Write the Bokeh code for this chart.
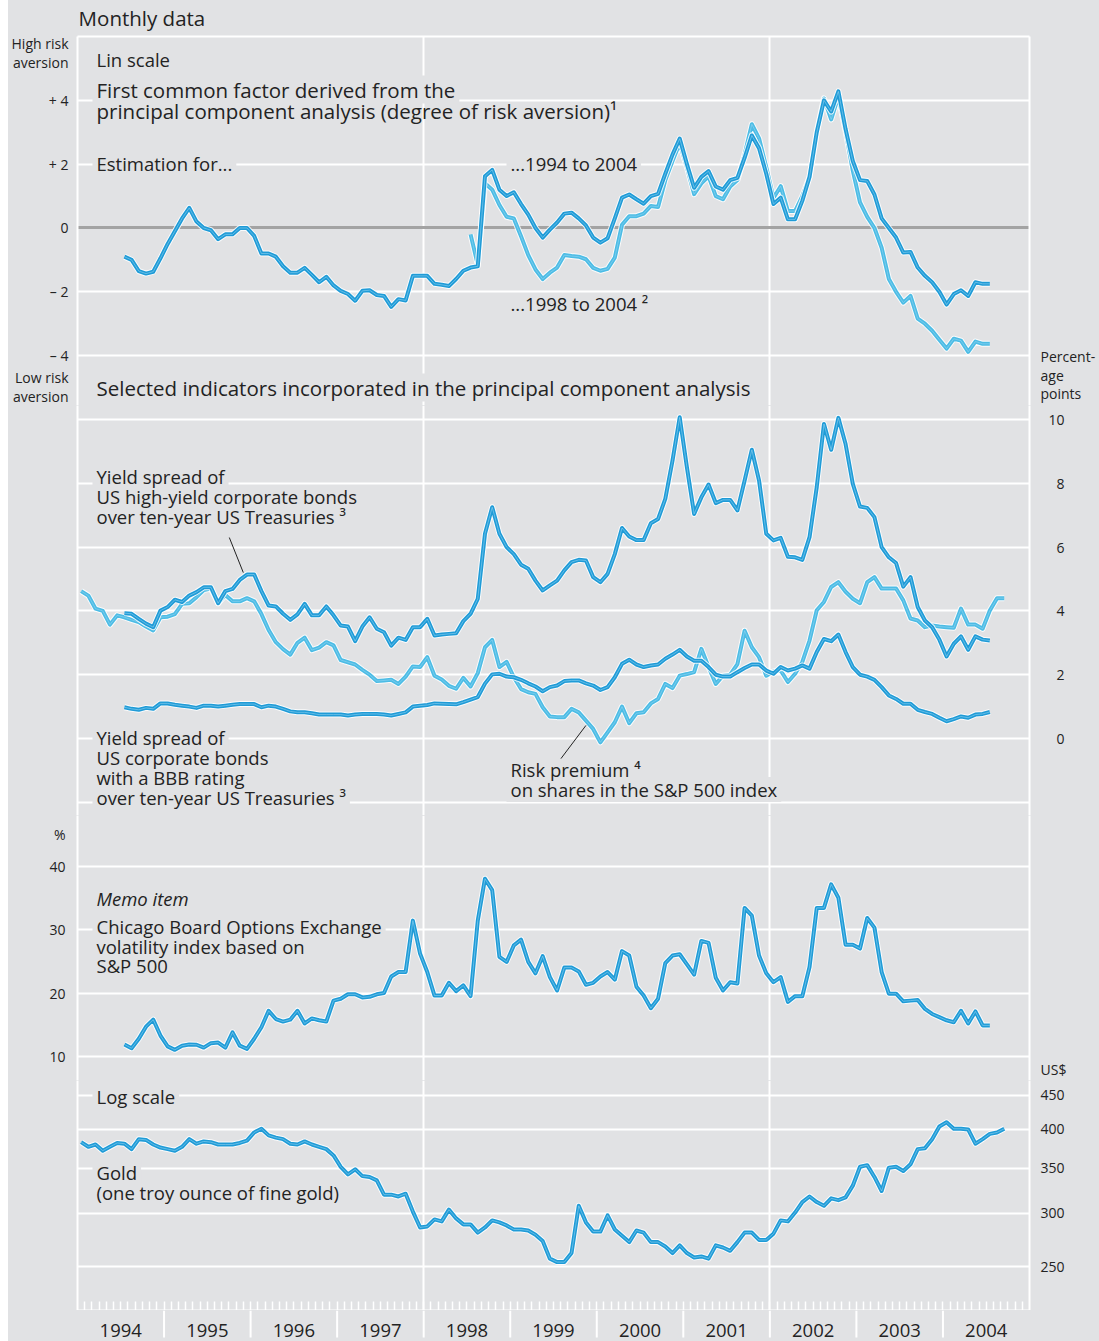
from bokeh.plotting import figure
from bokeh.layouts import column, row
from bokeh.models import (Range1d, LinearAxis, LogAxis, FixedTicker, Grid, Label,
                          ColumnDataSource, Spacer)
from bokeh.core.properties import value
from bokeh.embed import file_html
from bokeh.resources import INLINE

# ---------------------------------------------------------------- data
FIRST_YEAR = 1994
LAST_YEAR = 2005
year_labels = ["1994", "1995", "1996", "1997", "1998", "1999",
               "2000", "2001", "2002", "2003", "2004"]

# months counted from Jan 1994 (0 = Jan 1994)
factor_9404_start = 6
factor_9404 = [-0.9, -1.0, -1.35, -1.43, -1.37, -0.95, -0.5, -0.1, 0.3, 0.63,
               0.2, 0.0, -0.07, -0.35, -0.2, -0.2, 0.0, 0.0, -0.25, -0.8,
               -0.8, -0.9, -1.2, -1.4, -1.4, -1.25, -1.47, -1.7, -1.53, -1.8,
               -1.97, -2.07, -2.28, -1.97, -1.95, -2.1, -2.13, -2.47, -2.23, -2.27,
               -1.5, -1.5, -1.5, -1.75, -1.78, -1.82, -1.6, -1.34, -1.24, -1.2,
               1.62, 1.82, 1.2, 1.0, 1.12, 0.75, 0.42, 0.0, -0.3, -0.05,
               0.17, 0.45, 0.48, 0.3, 0.08, -0.3, -0.46, -0.32, 0.3, 0.95,
               1.05, 0.9, 0.76, 1.0, 1.07, 1.7, 2.3, 2.8, 2.0, 1.26,
               1.6, 1.78, 1.3, 1.2, 1.5, 1.57, 2.2, 2.9, 2.5, 1.7,
               0.75, 0.95, 0.27, 0.27, 0.85, 1.6, 3.0, 4.0, 3.65, 4.28,
               3.1, 2.1, 1.5, 1.47, 1.05, 0.3, 0.0, -0.3, -0.77, -0.75,
               -1.24, -1.5, -1.7, -2.0, -2.4, -2.07, -1.95, -2.13, -1.7, -1.75,
               -1.75]

factor_9804_start = 54
factor_9804 = [-0.2, -1.15,
               1.4, 1.2, 0.72, 0.35, 0.3, -0.26, -0.85, -1.3, -1.6, -1.4,
               -1.24, -0.85, -0.88, -0.9, -0.98, -1.25, -1.34, -1.28, -0.93, 0.1,
               0.37, 0.37, 0.45, 0.69, 0.66, 1.5, 2.1, 2.66, 1.9, 1.06,
               1.4, 1.62, 1.0, 0.9, 1.3, 1.5, 2.3, 3.25, 2.81, 1.9,
               0.94, 1.31, 0.53, 0.53, 1.0, 1.6, 3.0, 4.06, 3.4, 4.12,
               3.03, 1.8, 0.8, 0.35, 0.0, -0.62, -1.6, -2.0, -2.34, -2.13,
               -2.84, -3.0, -3.22, -3.5, -3.78, -3.47, -3.53, -3.88, -3.56, -3.63,
               -3.63]

high_yield_start = 6
high_yield = [3.93, 3.91, 3.75, 3.6, 3.49, 4.01, 4.12, 4.35, 4.28, 4.48,
              4.59, 4.74, 4.74, 4.24, 4.62, 4.69, 4.97, 5.14, 5.14, 4.62,
              4.17, 4.14, 3.91, 3.72, 3.89, 4.22, 3.86, 3.86, 4.14, 3.86,
              3.54, 3.51, 3.05, 3.51, 3.8, 3.44, 3.33, 2.91, 3.16, 3.09,
              3.49, 3.49, 3.75, 3.23, 3.26, 3.28, 3.3, 3.68, 3.91, 4.38,
              6.42, 7.25, 6.42, 6.0, 5.78, 5.45, 5.32, 4.95, 4.64, 4.8,
              4.95, 5.27, 5.53, 5.6, 5.58, 5.06, 4.9, 5.16, 5.78, 6.6,
              6.33, 6.22, 6.22, 6.75, 6.88, 7.51, 8.71, 10.07, 8.5, 7.04,
              7.56, 7.96, 7.38, 7.48, 7.48, 7.15, 8.09, 9.05, 8.09, 6.42,
              6.21, 6.29, 5.7, 5.68, 5.6, 6.31, 7.88, 9.86, 9.05, 10.05,
              9.23, 7.98, 7.27, 7.23, 6.94, 6.0, 5.68, 5.5, 4.76, 5.06,
              4.12, 3.7, 3.49, 3.1, 2.57, 2.97, 3.2, 2.78, 3.2, 3.1,
              3.07]

bbb_start = 6
bbb = [0.98, 0.93, 0.9, 0.96, 0.93, 1.1, 1.1, 1.06, 1.03, 1.0,
       0.96, 1.03, 1.03, 1.0, 1.03, 1.06, 1.08, 1.08, 1.08, 0.98,
       1.03, 1.0, 0.93, 0.85, 0.82, 0.82, 0.79, 0.75, 0.75, 0.75,
       0.75, 0.72, 0.75, 0.77, 0.77, 0.77, 0.75, 0.72, 0.77, 0.82,
       1.0, 1.03, 1.05, 1.1, 1.09, 1.08, 1.07, 1.14, 1.22, 1.3,
       1.72, 2.01, 2.03, 1.94, 1.92, 1.84, 1.73, 1.63, 1.48, 1.61,
       1.66, 1.8, 1.82, 1.82, 1.73, 1.66, 1.52, 1.61, 1.92, 2.34,
       2.47, 2.32, 2.24, 2.29, 2.32, 2.5, 2.63, 2.78, 2.57, 2.44,
       2.44, 2.24, 2.0, 1.94, 1.94, 2.08, 2.21, 2.32, 2.32, 2.13,
       2.03, 2.24, 2.13, 2.19, 2.29, 2.19, 2.71, 3.12, 3.05, 3.26,
       2.71, 2.24, 2.0, 1.94, 1.84, 1.61, 1.35, 1.24, 1.09, 1.09,
       0.9, 0.83, 0.77, 0.65, 0.54, 0.61, 0.69, 0.65, 0.75, 0.77,
       0.83]

risk_premium_start = 0
risk_premium = [4.62, 4.48, 4.07, 4.0, 3.57, 3.86, 3.8, 3.72, 3.65, 3.51,
                3.39, 3.8, 3.82, 3.9, 4.22, 4.24, 4.43, 4.65, 4.7, 4.24,
                4.5, 4.3, 4.3, 4.4, 4.3, 3.9, 3.4, 3.02, 2.8, 2.63,
                3.0, 3.16, 2.77, 2.85, 3.02, 2.92, 2.46, 2.39, 2.32, 2.15,
                2.0, 1.8, 1.82, 1.84, 1.71, 1.94, 2.26, 2.24, 2.55, 1.97,
                1.85, 1.65, 1.56, 1.9, 1.63, 2.05, 2.86, 3.09, 2.24, 2.4,
                1.92, 1.55, 1.45, 1.4, 0.98, 0.69, 0.67, 0.67, 0.93, 0.82,
                0.56, 0.3, -0.12, 0.19, 0.51, 1.0, 0.48, 0.79, 0.82, 1.1,
                1.24, 1.71, 1.58, 1.97, 2.02, 2.08, 2.81, 2.24, 1.71, 1.97,
                2.0, 2.33, 3.38, 2.86, 2.55, 1.97, 2.1, 2.13, 1.77, 2.03,
                2.4, 3.07, 4.02, 4.28, 4.75, 4.9, 4.6, 4.38, 4.24, 4.9,
                5.06, 4.7, 4.7, 4.7, 4.33, 3.76, 3.7, 3.49, 3.54, 3.51,
                3.49, 3.47, 4.07, 3.57, 3.57, 3.44, 4.01, 4.4, 4.4]

vix_start = 6
vix = [11.9, 11.3, 12.8, 14.7, 15.8, 13.3, 11.6, 11.05, 11.7, 11.9,
       11.85, 11.4, 12.1, 12.2, 11.4, 13.8, 11.7, 11.2, 12.8, 14.6,
       17.2, 15.9, 15.5, 15.8, 17.2, 15.2, 16.0, 15.7, 15.5, 18.8,
       19.1, 19.8, 19.8, 19.3, 19.4, 19.8, 20.0, 22.6, 23.3, 23.3,
       31.4, 26.2, 23.3, 19.6, 19.6, 21.6, 20.3, 21.2, 19.5, 31.4,
       38.0, 36.2, 25.7, 24.9, 27.5, 28.4, 24.9, 23.1, 25.8, 22.5,
       20.4, 24.0, 24.0, 23.4, 21.3, 21.6, 22.6, 23.3, 22.1, 26.6,
       25.9, 21.0, 19.6, 17.6, 19.1, 24.7, 25.9, 26.1, 24.5, 22.9,
       28.2, 27.9, 22.4, 20.4, 21.7, 21.5, 33.4, 32.2, 25.9, 23.1,
       21.7, 22.5, 18.6, 19.5, 19.5, 24.1, 33.4, 33.4, 37.1, 35.0,
       27.6, 27.6, 27.0, 31.8, 30.3, 23.3, 19.9, 19.9, 18.7, 18.8,
       18.9, 17.5, 16.7, 16.2, 15.7, 15.4, 17.2, 15.2, 17.1, 14.9,
       14.9]

gold_start = 0
gold = [383, 377, 380, 372, 377, 382, 381, 374, 387, 386,
        380, 376, 374, 372, 377, 387, 381, 384, 383, 380,
        380, 380, 382, 385, 396, 401, 392, 389, 387, 381,
        380, 384, 380, 377, 374, 366, 352, 343, 349, 341,
        340, 336, 320, 320, 318, 321, 302, 286, 287, 294,
        292, 304, 295, 289, 289, 281, 286, 293, 291, 288,
        284, 284, 283, 279, 273, 257, 254, 254, 262, 308,
        291, 282, 282, 298, 284, 278, 272, 283, 281, 272,
        272, 268, 262, 269, 262, 258, 259, 257, 269, 267,
        264, 272, 281, 281, 274, 274, 280, 293, 292, 301,
        312, 318, 312, 308, 316, 314, 317, 330, 352, 354,
        340, 324, 351, 352, 347, 355, 374, 375, 387, 404,
        410, 401, 401, 400, 381, 387, 394, 396, 401]

factor_ticks = [4, 2, 0, -2, -4]
factor_tick_labels = ["+ 4", "+ 2", "0", "\u2013 2", "\u2013 4"]
spread_ticks = [10, 8, 6, 4, 2, 0]
spread_tick_labels = ["10", "\u20078", "\u20076", "\u20074", "\u20072", "\u20070"]
vix_ticks = [40, 30, 20, 10]
vix_tick_labels = ["40", "30", "20", "10"]
gold_ticks = [450, 400, 350, 300, 250]
gold_tick_labels = ["450", "400", "350", "300", "250"]

# ---------------------------------------------------------------- style
GREY = "#e1e2e4"
DARK = "#1f9bd7"
LIGHT = "#4cbce5"
TXT = "#232323"
FONT = "Open Sans"
HEAD = "20.5px"
BODY = "18.5px"
TICK = "14px"
W = 1091
PX_PER_YEAR = 953 / (LAST_YEAR - FIRST_YEAR)
XR = Range1d(FIRST_YEAR, LAST_YEAR)


def month_x(start, n):
    return [FIRST_YEAR + (start + i + 0.5) / 12.0 for i in range(n)]


def make_fig(h, yr, top=0, bottom=0, log=False):
    p = figure(width=W, height=h, x_range=XR, y_range=yr,
               y_axis_type="log" if log else "linear",
               x_axis_location=None, y_axis_location=None,
               toolbar_location=None, output_backend="svg",
               min_border_left=68, min_border_right=70,
               min_border_top=top, min_border_bottom=bottom,
               background_fill_color=GREY, border_fill_color=GREY,
               outline_line_color=None)
    p.xgrid.ticker = FixedTicker(ticks=[1998, 2002])
    p.xgrid.grid_line_color = "white"
    p.xgrid.grid_line_width = 2
    p.ygrid.grid_line_color = "white"
    p.ygrid.grid_line_width = 2
    return p


def frame_axis(p, side, ticks=None, labels=None, standoff=0, log=False,
               size=TICK, line_height=1.2):
    cls = LogAxis if log else LinearAxis
    ax = cls(ticker=FixedTicker(ticks=ticks or []))
    ax.axis_line_color = "white"
    ax.axis_line_width = 2
    ax.major_tick_in = 0
    ax.major_tick_out = 0
    ax.minor_tick_in = 0
    ax.minor_tick_out = 0
    ax.major_tick_line_color = None
    ax.minor_tick_line_color = None
    ax.major_label_standoff = standoff
    ax.major_label_text_font = FONT
    ax.major_label_text_color = TXT
    ax.major_label_text_font_size = size
    ax.major_label_text_line_height = line_height
    if ticks:
        ax.major_label_overrides = {t: l for t, l in zip(ticks, labels)}
    p.add_layout(ax, side)
    return ax


def draw(p, start, vals, color):
    src = ColumnDataSource(dict(x=month_x(start, len(vals)), y=vals))
    p.line("x", "y", source=src, line_color="white", line_width=6, line_alpha=0.85,
           line_join="round")
    p.line("x", "y", source=src, line_color=color, line_width=4, line_join="round")
    p.line("x", "y", source=src, line_color="#9ad8f2", line_width=0.8, line_alpha=0.7,
           line_join="round")


def txt(p, sx, sy, text, size=BODY, bg=False, italic=False):
    # sx, sy: pixels from the frame's left / bottom edge
    lab = Label(x=sx - (4 if bg else 0), y=sy, x_units="screen", y_units="screen",
                text=text, text_font=FONT, text_font_size=size, text_color=TXT,
                text_align="left", text_baseline="middle",
                text_font_style="italic" if italic else "normal")
    if bg:
        lab.background_fill_color = GREY
        lab.background_fill_alpha = 1.0
        lab.padding = (4, 0)
    p.add_layout(lab)


# ---------------------------------------------------------------- panel 1
pA = make_fig(405, Range1d(-5.5625, 6.0), top=35)
pA.ygrid.ticker = FixedTicker(ticks=[4, 2, -2, -4])
pA.add_layout(Grid(dimension=1, ticker=FixedTicker(ticks=[0]),
                   grid_line_color="#a3a3a3", grid_line_width=3))
frame_axis(pA, "left", factor_ticks + [5.484, -5.15],
           factor_tick_labels + ["High risk\naversion", "Low risk\naversion"],
           standoff=9, line_height=0.98)
frame_axis(pA, "right", [-4.616], ["Percent-\nage\npoints"], standoff=11,
           line_height=0.97)
frame_axis(pA, "above", [FIRST_YEAR + 64.5 / PX_PER_YEAR], ["Monthly data"],
           standoff=5, size=HEAD)
draw(pA, factor_9804_start, factor_9804, LIGHT)
draw(pA, factor_9404_start, factor_9404, DARK)
txt(pA, 19, 316, "First common factor derived from the", HEAD, bg=True)
txt(pA, 19, 242, "Estimation for...", bg=True)
txt(pA, 433, 242, "...1994 to 2004", bg=True)
txt(pA, 19, 18, "Selected indicators incorporated in the principal component analysis",
    HEAD, bg=True)
txt(pA, 19, 346, "Lin scale")
txt(pA, 19, 295, "principal component analysis (degree of risk aversion)\u00b9", HEAD)
txt(pA, 433, 102, "...1998 to 2004 \u00b2")

# ---------------------------------------------------------------- panel 2
pB = make_fig(410, Range1d(-2.4138, 10.4389))
pB.ygrid.ticker = FixedTicker(ticks=[10, 8, 6, 4, 2, 0, -2])
frame_axis(pB, "left")
frame_axis(pB, "right", spread_ticks, spread_tick_labels, standoff=19)
draw(pB, risk_premium_start, risk_premium, LIGHT)
draw(pB, bbb_start, bbb, DARK)
draw(pB, high_yield_start, high_yield, DARK)
pB.segment(x0=[1995.754, 1999.586], y0=[6.30, -0.63], x1=[1995.916, 1999.875],
           y1=[5.2, 0.41], line_color=TXT, line_width=1)
txt(pB, 19, 339, "Yield spread of", bg=True)
txt(pB, 19, 78, "Yield spread of", bg=True)
txt(pB, 19, 18, "over ten-year US Treasuries \u00b3", bg=True)
txt(pB, 433, 26, "on shares in the S&P 500 index", bg=True)
txt(pB, 19, 319, "US high-yield corporate bonds")
txt(pB, 19, 299, "over ten-year US Treasuries \u00b3")
txt(pB, 19, 58, "US corporate bonds")
txt(pB, 19, 38, "with a BBB rating")
txt(pB, 433, 46, "Risk premium \u2074")

# ---------------------------------------------------------------- panel 3
pC = make_fig(265, Range1d(6.2205, 47.953))
pC.ygrid.ticker = FixedTicker(ticks=[40, 30, 20, 10])
frame_axis(pC, "left", vix_ticks + [44.96], vix_tick_labels + ["%"], standoff=12)
frame_axis(pC, "right", [7.95], ["US$"], standoff=11)
draw(pC, vix_start, vix, DARK)
txt(pC, 19, 154, "Chicago Board Options Exchange", bg=True)
txt(pC, 19, 182, "Memo item", italic=True)
txt(pC, 19, 134, "volatility index based on")
txt(pC, 19, 115, "S&P 500")

# ---------------------------------------------------------------- panel 4
pD = make_fig(230, Range1d(215.2, 473.08), log=True)
pD.ygrid.ticker = FixedTicker(ticks=[450, 400, 350, 300, 250])
frame_axis(pD, "left")
frame_axis(pD, "right", gold_ticks, gold_tick_labels, standoff=11, log=True)
year_bounds = list(range(FIRST_YEAR + 1, LAST_YEAR))
month_bounds = [FIRST_YEAR + k / 12.0 for k in range(1, 12 * (LAST_YEAR - FIRST_YEAR))]
xb = LinearAxis(ticker=FixedTicker(ticks=[], minor_ticks=month_bounds))
xb.axis_line_color = "white"
xb.axis_line_width = 2
xb.major_tick_line_color = None
xb.major_tick_in = 0
xb.major_tick_out = 0
xb.minor_tick_line_color = "white"
xb.minor_tick_line_width = 1.5
xb.minor_tick_in = 9
xb.minor_tick_out = 0
xb.major_label_standoff = 0
pD.add_layout(xb, "below")
draw(pD, gold_start, gold, DARK)
txt(pD, 19, 214, "Log scale", bg=True)
txt(pD, 19, 138, "Gold", bg=True)
txt(pD, 19, 118, "(one troy ounce of fine gold)")

# ---------------------------------------------------------------- year strip
pE = figure(width=W, height=31, x_range=XR, y_range=Range1d(0, 31),
            x_axis_location=None, y_axis_location=None,
            toolbar_location=None, output_backend="svg",
            min_border_left=68, min_border_right=70, min_border_top=0,
            min_border_bottom=0,
            background_fill_color=GREY, border_fill_color=GREY, outline_line_color=None)
pE.xgrid.visible = False
pE.ygrid.visible = False
pE.segment(x0=year_bounds, y0=[31] * len(year_bounds), x1=year_bounds,
           y1=[4] * len(year_bounds), line_color="white", line_width=2)
pE.text(x=[FIRST_YEAR + i + 0.5 for i in range(len(year_labels))],
        y=[11] * len(year_labels), text=year_labels, text_font=value(FONT),
        text_font_size=BODY, text_color=TXT, text_align="center",
        text_baseline="middle")

col = column(pA, pB, pC, pD, pE, spacing=0, styles={"background-color": GREY})
layout = row(Spacer(width=8, height=1341), col, spacing=0)
open("out.html", "w").write(file_html(layout, INLINE))
